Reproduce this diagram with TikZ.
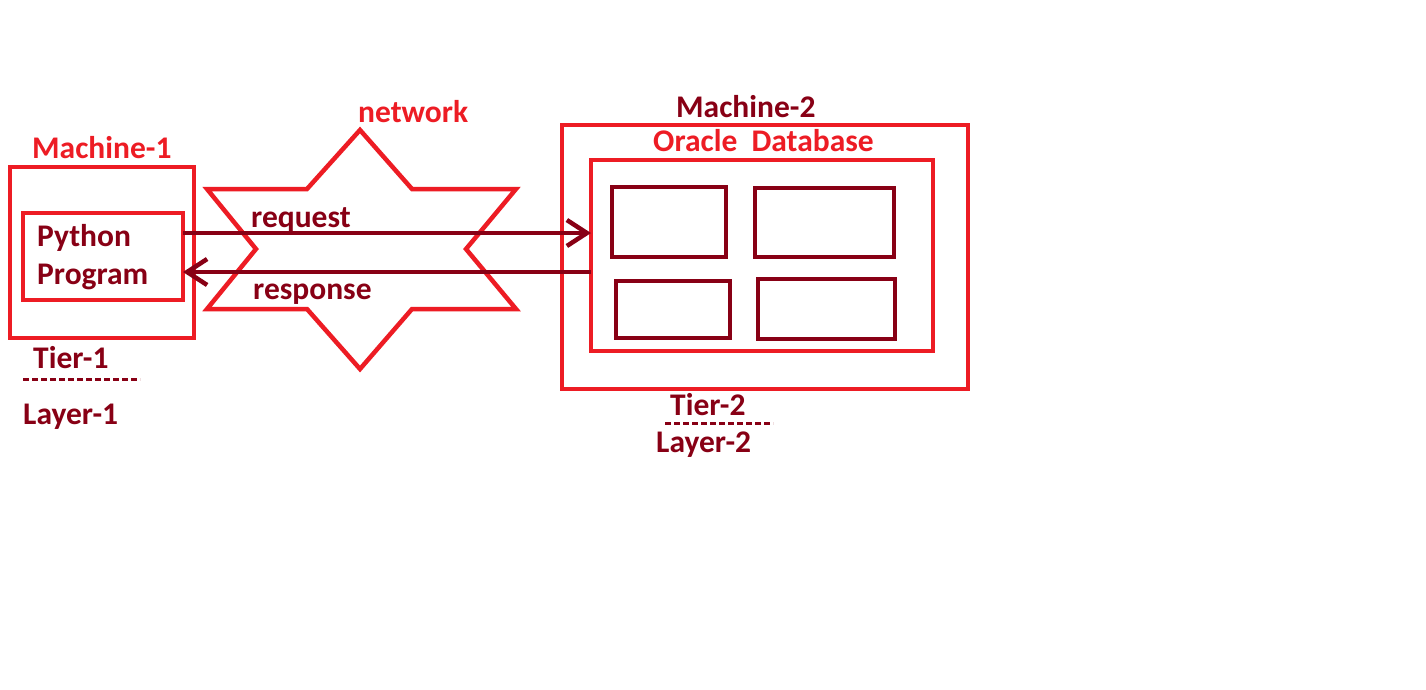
\documentclass[tikz,border=0pt]{standalone}
\usepackage{fontspec}
\setmainfont{Carlito}
\usetikzlibrary{arrows.meta}
\definecolor{pred}{HTML}{ED1C24}
\definecolor{dred}{HTML}{880015}
\begin{document}
\begin{tikzpicture}[x=1pt,y=-1pt,
  redbox/.style={draw=pred,line width=4.5pt,inner sep=0pt,outer sep=0pt},
  darkbox/.style={draw=dred,line width=4.5pt,inner sep=0pt},
  lbl/.style={anchor=base west,inner sep=0pt,font=\fontsize{31.5}{36}\selectfont\bfseries},
  conn/.style={draw=dred,line width=4.5pt,-{Straight Barb[length=20pt,width=26pt,line width=4.5pt]}},
  dashline/.style={draw=dred,line width=3pt,dash pattern=on 6pt off 3pt}]
\useasboundingbox (0,0) rectangle (1426,689);
\fill[white] (0,0) rectangle (1426,689);
% Machine-1
\draw[redbox] (10,167) rectangle (194,338);
\node[redbox,minimum width=160pt,minimum height=87pt,anchor=north west] (py) at (23,213) {};
\node[lbl,text=pred] (m1) at (32,158) {Machine-1};
\node[lbl,text=dred] (pyt) at (37,246) {Python};
\node[lbl,text=dred] (pyp) at (37,284) {Program};
\node[lbl,text=dred] (t1) at (33,368) {Tier-1};
\node[lbl,text=dred] (l1) at (23,424) {Layer-1};
\coordinate (d1a) at (23,379); \coordinate (d1b) at (140,379);
\draw[dashline] (d1a) -- (d1b);
% network star
\draw[draw=pred,line width=4.5pt,line join=miter]
  (360,130) -- (412,189) -- (516,189) -- (466,249) -- (516,309) -- (412,309)
  -- (360,369) -- (307,309) -- (207,309) -- (256,249) -- (207,189) -- (307,189) -- cycle;
\node[lbl,text=pred] (nw) at (358,122) {network};
% Machine-2
\draw[redbox] (562,125) rectangle (968,389);
\node[redbox,minimum width=342pt,minimum height=191pt,anchor=north west] (db) at (591,160) {};
\node[lbl,text=dred] (m2) at (676,117) {Machine-2};
\node[lbl,text=pred] (ora) at (653,151) {Oracle\ \ Database};
\draw[darkbox] (612,187) rectangle (726,257);
\draw[darkbox] (755,188) rectangle (894,257);
\draw[darkbox] (616,281) rectangle (730,338);
\draw[darkbox] (758,279) rectangle (895,339);
\node[lbl,text=dred] (t2) at (670,415) {Tier-2};
\node[lbl,text=dred] (l2) at (656,452) {Layer-2};
\coordinate (d2a) at (665,423); \coordinate (d2b) at (773,423);
\draw[dashline] (d2a) -- (d2b);
% connectors
\coordinate (rqs) at (py.east |- 0,233);
\coordinate (rqe) at (db.west |- 0,233);
\coordinate (rss) at (db.west |- 0,272);
\coordinate (rse) at (py.east |- 0,272);
\draw[conn] (rqs) -- (rqe);
\draw[conn] (rss) -- (rse);
\node[lbl,text=dred] (req) at (251,227) {request};
\node[lbl,text=dred] (res) at (253,299) {response};
\end{tikzpicture}
\end{document}
